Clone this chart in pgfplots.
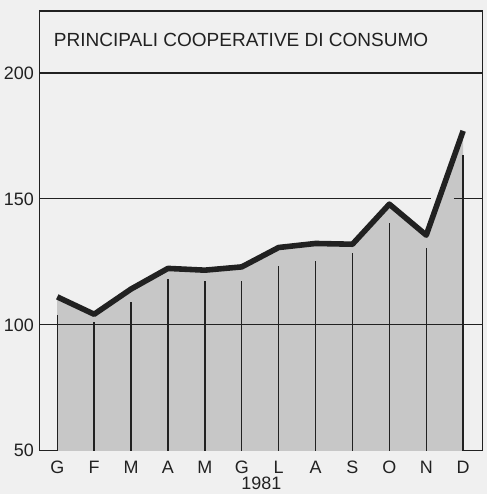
\documentclass[border=0pt]{standalone}
\usepackage{pgfplots}
\usepackage{pgfplotstable}
\pgfplotsset{compat=1.18}
\usepackage{fontspec}
\setmainfont{Liberation Sans}
\usetikzlibrary{backgrounds}

\definecolor{paper}{gray}{0.94}
\definecolor{shade}{gray}{0.78}
\definecolor{ink}{gray}{0.13}

\pgfplotstableread{
x v top
0 111.1 104.0
1 104.2 101.0
2 114.2 109.0
3 122.4 118.0
4 121.7 117.5
5 123.0 117.3
6 130.7 123.4
7 132.3 125.4
8 132.0 128.4
9 147.9 140.6
10 135.6 130.7
11 177.0 167.3
}\data

\begin{document}
\begin{tikzpicture}
\begin{axis}[
  scale only axis,
  width=333pt, height=330.75pt,
  xmin=-0.47, xmax=11.53,
  ymin=50, ymax=224.6,
  xtick={0,...,11},
  xticklabels={G,F,M,A,M,G,L,A,S,O,N,D},
  ytick={50,100,150,200},
  major tick length=0pt,
  axis line style={ink, line width=0.9pt},
  /pgf/number format/assume math mode=true,
  tick label style={font=\fontsize{13.5}{15}\selectfont, text=ink},
  xticklabel style={yshift=-4pt},
  yticklabel style={xshift=-1pt},
  xlabel={1981},
  xlabel style={font=\fontsize{13.5}{15}\selectfont, text=ink, yshift=4pt},
  clip=true,
]
\addplot[draw=none, fill=shade] table[x=x, y=v]{\data} \closedcycle;
\addplot[ink, line width=0.9pt] coordinates {(-0.47,100) (11.53,100)};
\addplot[ink, line width=0.9pt] coordinates {(-0.47,200) (11.53,200)};
\addplot[ink, line width=0.9pt] coordinates {(-0.47,150) (10.13,150)};
\addplot[ink, line width=0.9pt] coordinates {(10.75,150) (11.53,150)};
\addplot[ink, line width=1.1pt, ycomb, mark=none] table[x=x, y=top]{\data};
\addplot[ink, line width=4.2pt, line join=round, mark=none] table[x=x, y=v]{\data};
\node[anchor=west, font=\fontsize{14.3}{16}\selectfont, text=ink] at (rel axis cs:0.021,0.933) {PRINCIPALI COOPERATIVE DI CONSUMO};
\end{axis}
\pgfresetboundingbox
\begin{scope}[on background layer]
\path[fill=paper] ([xshift=-30pt, yshift=-32.5pt]current axis.south west) rectangle ([xshift=3pt, yshift=8.25pt]current axis.north east);
\end{scope}
\end{tikzpicture}
\end{document}
